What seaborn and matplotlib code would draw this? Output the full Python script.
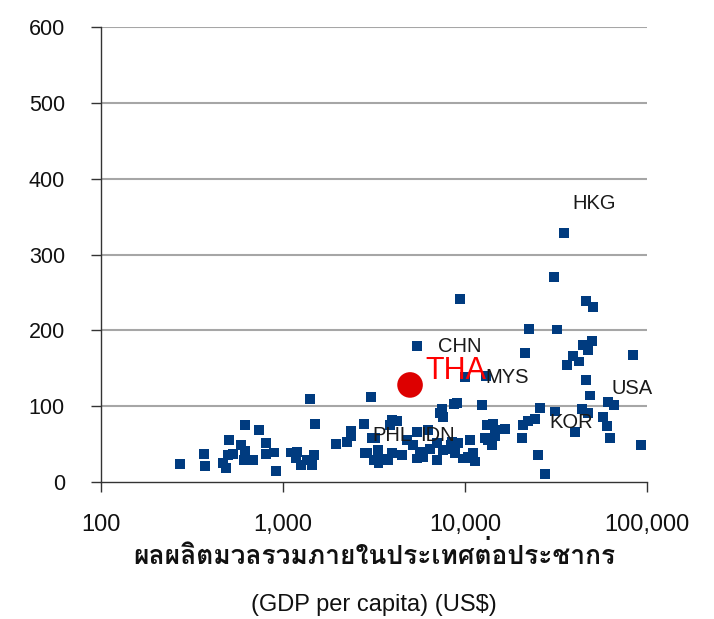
import numpy as np
import pandas as pd
import matplotlib
matplotlib.use("Agg")
import matplotlib.pyplot as plt
from matplotlib import font_manager
from matplotlib.ticker import FixedLocator, FuncFormatter, NullLocator
import seaborn as sns

# GDP per capita (US$) and indicator value for each economy
gdp = [
    272, 368, 373, 468, 486, 505, 499, 531, 587, 618, 618, 611, 684, 738,
    807, 807, 893, 916, 1106, 1194, 1178, 1256, 1355, 1442, 1479, 1406, 1500,
    1955, 2248, 2365, 2365, 2786, 3047, 3083, 2825, 3162,
    7482, 8710, 7568, 7295, 3972, 3873, 4227, 5445, 6266, 3200, 3327, 2897,
    3499, 3281, 3776, 4508, 4800, 5178, 5662, 5445, 5875, 6427, 7015, 7015,
    7568, 8488, 8488, 9750, 3350, 3950, 8360,
    10000, 13036, 21380, 8995, 12388, 25834, 31260, 13213, 14256, 14621,
    16596, 12882, 14060, 13366, 14621, 20837, 22198, 24266, 20570, 10640,
    9162, 8810, 10380, 11066, 11350, 10255, 25180, 27542,
    49890, 44460, 47190, 39180, 36290, 42280, 83750, 46240, 48620, 61000,
    65890, 44000, 47190, 57280, 60250, 40200, 62660, 92680,
    35000, 30820, 9397, 46240, 50470, 22486, 31990, 5445,
]
value = [
    24, 37, 21, 25, 19, 55, 36, 37, 49, 75, 41, 29, 29, 69,
    51, 37, 39, 14, 39, 40, 31, 22, 29, 22, 36, 109, 76,
    50, 53, 68, 60, 76, 112, 58, 38, 29,
    97, 103, 86, 91, 82, 75, 80, 66, 69, 58, 42, 38,
    31, 29, 29, 36, 55, 49, 40, 31, 33, 44, 29, 51,
    42, 44, 53, 31, 25, 38, 49,
    138, 140, 170, 104, 102, 98, 93, 75, 77, 69,
    70, 58, 49, 55, 60, 75, 80, 83, 58, 55,
    51, 38, 33, 38, 27, 31, 36, 11,
    186, 181, 174, 166, 154, 159, 168, 135, 114, 106,
    102, 96, 91, 86, 74, 66, 58, 49,
    328, 270, 241, 239, 231, 202, 201, 179,
]

# Thailand, highlighted
tha_gdp = [4988]
tha_value = [128]

# Economy labels: name, GDP anchor, value anchor
label_names = ["HKG", "CHN", "MYS", "USA", "KOR", "PHL", "IDN"]
label_gdp = [38700, 7110, 12880, 63400, 28950, 3083, 5660]
label_value = [367, 179, 138, 123, 79, 61, 61]
tha_label_gdp = 6030
tha_label_value = 146

x_ticks = [100, 1000, 10000, 100000]
y_ticks = [0, 100, 200, 300, 400, 500, 600]

xlabel_th = "ผลผลิตมวลรวมภายในประเทศต่อประชากร"
xlabel_en = "(GDP per capita) (US$)"


def thai_family():
    """Return an installed family that can draw Thai script, if any."""
    try:
        from fontTools.ttLib import TTFont
    except Exception:
        return None
    best = None
    for f in font_manager.fontManager.ttflist:
        try:
            tt = TTFont(f.fname, fontNumber=0, lazy=True)
            cmap = tt.getBestCmap()
        except Exception:
            continue
        if cmap and 0x0E1C in cmap and 0x0E23 in cmap:
            if f.weight in ("bold", 700) or "Bold" in f.fname:
                return f.name
            best = best or f.name
    return best


sns.set_style("white")
plt.rcParams["font.family"] = ["Liberation Sans", "DejaVu Sans"]
plt.rcParams["text.color"] = "#111111"

df = pd.DataFrame({"gdp": gdp, "value": value})
df_tha = pd.DataFrame({"gdp": tha_gdp, "value": tha_value})

fig = plt.figure(figsize=(7.14, 6.19), dpi=100)
ax = fig.add_axes([0.1415, 0.2213, 0.7647, 0.7351])

sns.scatterplot(data=df, x="gdp", y="value", marker="s", s=50,
                color="#003b7f", edgecolor="none", ax=ax, zorder=3)
sns.scatterplot(data=df_tha, x="gdp", y="value", marker="o", s=340,
                color="#dd0000", edgecolor="none", ax=ax, zorder=4)

ax.set_xscale("log")
ax.set_xlim(100, 100000)
ax.set_ylim(0, 600)
ax.xaxis.set_major_locator(FixedLocator(x_ticks))
ax.xaxis.set_minor_locator(NullLocator())
ax.xaxis.set_major_formatter(FuncFormatter(lambda v, p: f"{v:,.0f}"))
ax.set_yticks(y_ticks)

for y in y_ticks[1:]:
    ax.axhline(y, color="#a6a6a6", lw=1.5, zorder=1)

for side in ("top", "right"):
    ax.spines[side].set_visible(False)
for side in ("left", "bottom"):
    ax.spines[side].set_color("#333333")
    ax.spines[side].set_linewidth(1.0)
    ax.spines[side].set_zorder(2)

ax.tick_params(axis="y", direction="out", length=7, width=1, color="#333333",
               labelsize=15.5, labelcolor="#111111", pad=19, left=True)
ax.tick_params(axis="x", direction="out", length=7, width=1, color="#333333",
               labelsize=17, labelcolor="#111111", pad=16, bottom=True)
ax.set_xlabel("")
ax.set_ylabel("")

for name, gx, gy in zip(label_names, label_gdp, label_value):
    ax.text(gx, gy, name, fontsize=14.5, color="#1a1a1a", ha="left",
            va="center", zorder=5)
ax.text(tha_label_gdp, tha_label_value, "THA", fontsize=22, color="#ff0000",
        ha="left", va="center", zorder=5)

thai = thai_family()
th_family = [thai, "DejaVu Sans"] if thai else ["DejaVu Sans"]
fig.text(0.524, 0.103, xlabel_th, ha="center", va="center", fontsize=19,
         fontweight="bold", family=th_family, color="#111111")
fig.text(0.524, 0.022, xlabel_en, ha="center", va="center", fontsize=17,
         color="#111111")

fig.savefig("out.png", dpi=100)
